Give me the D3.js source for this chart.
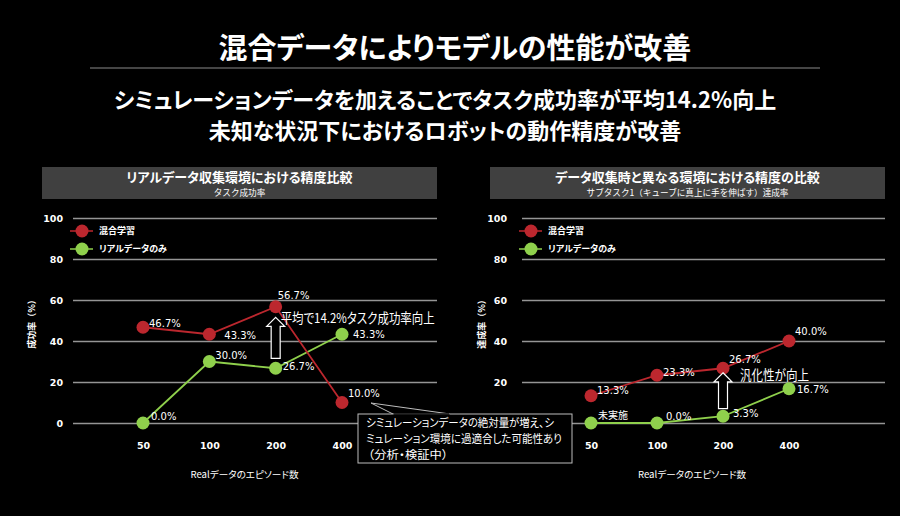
<!DOCTYPE html>
<meta charset="utf-8">
<script src="https://d3js.org/d3.v7.min.js"></script>
<style>
    html, body { margin: 0; padding: 0; background: #000; }
    svg { display: block; }
    text { font-feature-settings: "palt"; }
    text.fullwidth { font-feature-settings: normal; }
</style>
<body>
    <div id="chart"></div>
</body>
<script>
    // ---- data ----
    const episodes = ["50", "100", "200", "400"];
    const seriesNames = ["混合学習", "リアルデータのみ"];
    const yTicks = [0, 20, 40, 60, 80, 100];

    const leftMixed = [46.7, 43.3, 56.7, 10.0];
    const leftReal = [0.0, 30.0, 26.7, 43.3];
    const rightMixed = [13.3, 23.3, 26.7, 40.0];
    const rightReal = [0.0, 0.0, 3.3, 16.7];
    const rightRealLabels = ["未実施", "0.0%", "3.3%", "16.7%"];

    // label offsets (dx, dy from the point), layout only
    const leftMixedOff = [[6, 0], [15, 5], [2, -8], [6, -6]];
    const leftRealOff = [[8, -3], [6, -3], [7, 2], [11, 4]];
    const rightMixedOff = [[6, -2], [6, 1], [6, -5], [6, -6]];
    const rightRealOff = [[7, -4], [9, -3], [10, 1], [8, 4]];

    const red = "#bc272e",
        green = "#8fd04c";
    const cjk = "'Noto Sans CJK JP', 'Noto Sans', sans-serif";
    const num = "'DejaVu Sans', Verdana, sans-serif";

    const W = 900,
        H = 516;

    const svg = d3.select("#chart")
        .append("svg")
        .attr("width", W)
        .attr("height", H);

    svg.append("rect").attr("width", W).attr("height", H).attr("fill", "#000");

    // ---- headline ----
    svg.append("text")
        .attr("x", 455).attr("y", 59)
        .attr("text-anchor", "middle")
        .style("font-family", cjk).style("font-weight", "bold").style("font-size", "29px")
        .attr("fill", "#fff")
        .text("混合データによりモデルの性能が改善");

    svg.append("line")
        .attr("x1", 90).attr("x2", 820).attr("y1", 68).attr("y2", 68)
        .attr("stroke", "#8a8a8a").attr("stroke-width", 1);

    const sublines = ["シミュレーションデータを加えることでタスク成功率が平均14.2%向上", "未知な状況下におけるロボットの動作精度が改善"];
    svg.selectAll(".sub")
        .data(sublines)
        .join("text")
        .attr("class", "sub")
        .attr("x", 445).attr("y", (d, i) => 108 + i * 31)
        .attr("text-anchor", "middle")
        .style("font-family", cjk).style("font-weight", "bold").style("font-size", "22px")
        .attr("fill", "#fff")
        .text(d => d);

    // ---- one panel ----
    function drawPanel(cfg) {
        const g = svg.append("g");

        // header bar
        g.append("rect")
            .attr("x", cfg.left).attr("y", 167)
            .attr("width", cfg.right - cfg.left).attr("height", 32)
            .attr("fill", "#404040");
        g.append("text")
            .attr("x", (cfg.left + cfg.right) / 2).attr("y", 182)
            .attr("text-anchor", "middle")
            .style("font-family", cjk).style("font-weight", "bold").style("font-size", "13px")
            .attr("fill", "#fff")
            .text(cfg.title);
        g.append("text")
            .attr("class", "fullwidth")
            .attr("x", (cfg.left + cfg.right) / 2).attr("y", 196)
            .attr("text-anchor", "middle")
            .style("font-family", cjk).style("font-size", "8.6px")
            .attr("fill", "#fff")
            .text(cfg.subtitle);

        const x = d3.scalePoint()
            .domain(episodes)
            .range([cfg.x0, cfg.x1]);
        const y = d3.scaleLinear()
            .domain([0, 100])
            .range([423, 218]);

        // grid + y ticks
        const yAxis = g.append("g")
            .attr("transform", `translate(${cfg.gridLeft},0)`)
            .call(d3.axisLeft(y).tickValues(yTicks).tickSize(-(cfg.right - cfg.gridLeft)).tickPadding(cfg.tickPad));
        yAxis.select(".domain").remove();
        yAxis.selectAll(".tick line").attr("stroke", "#959595").attr("stroke-width", 1.5);
        yAxis.selectAll(".tick text")
            .attr("fill", "#fff")
            .style("font-family", num).style("font-weight", "bold").style("font-size", "9.5px");
        // the callout box sits over the right panel's zero label
        if (cfg.hideZero) yAxis.selectAll(".tick text").filter(d => d === 0).remove();

        // x ticks
        const xAxis = g.append("g")
            .attr("transform", "translate(0,423)")
            .call(d3.axisBottom(x).tickSize(0).tickPadding(19));
        xAxis.select(".domain").remove();
        xAxis.selectAll(".tick text")
            .attr("fill", "#fff")
            .style("font-family", num).style("font-weight", "bold").style("font-size", "9.5px");

        // axis titles
        g.append("text")
            .attr("class", "fullwidth")
            .attr("transform", `translate(${cfg.yTitleX},322) rotate(-90)`)
            .attr("text-anchor", "middle")
            .attr("dy", "0.35em")
            .style("font-family", cjk).style("font-weight", "bold").style("font-size", "9px")
            .attr("fill", "#fff")
            .text(cfg.yTitle);
        g.append("text")
            .attr("x", (cfg.x0 + cfg.x1) / 2 + 2).attr("y", 478)
            .attr("text-anchor", "middle")
            .style("font-family", cjk).style("font-size", "9.6px")
            .attr("fill", "#fff")
            .text("Realデータのエピソード数");

        // legend
        const lg = g.selectAll(".legend")
            .data(seriesNames)
            .join("g")
            .attr("transform", (d, i) => `translate(${cfg.gridLeft},${231 + i * 18})`);
        lg.append("line")
            .attr("x1", -3).attr("x2", 20)
            .attr("stroke", (d, i) => i === 0 ? red : green).attr("stroke-width", 1.5);
        lg.append("circle")
            .attr("cx", 9).attr("r", 6.5)
            .attr("fill", (d, i) => i === 0 ? red : green);
        lg.append("text")
            .attr("x", 26).attr("dy", "0.35em")
            .style("font-family", cjk).style("font-weight", "bold").style("font-size", "9px")
            .attr("fill", "#fff")
            .text(d => d);

        const line = d3.line()
            .x((d, i) => x(episodes[i]))
            .y(d => y(d));

        const series = [
            { values: cfg.real, color: green, labels: cfg.realLabels, off: cfg.realOff },
            { values: cfg.mixed, color: red, labels: cfg.mixed.map(v => v.toFixed(1) + "%"), off: cfg.mixedOff }
        ];

        series.forEach(s => {
            g.append("path")
                .datum(s.values)
                .attr("fill", "none")
                .attr("stroke", s.color)
                .attr("stroke-width", 1.8)
                .attr("d", line);
        });
        series.forEach(s => {
            g.selectAll(null)
                .data(s.values)
                .join("circle")
                .attr("cx", (d, i) => x(episodes[i]))
                .attr("cy", d => y(d))
                .attr("r", 6.5)
                .attr("fill", s.color);
            g.selectAll(null)
                .data(s.values)
                .join("text")
                .attr("x", (d, i) => x(episodes[i]) + s.off[i][0])
                .attr("y", (d, i) => y(d) + s.off[i][1])
                .style("font-family", (d, i) => /%/.test(s.labels[i]) ? num : cjk)
                .style("font-size", "10px")
                .attr("fill", "#fff")
                .text((d, i) => s.labels[i]);
        });

        // hollow "improvement" arrow + note
        const ax = x(cfg.arrowAt);
        const aTop = y(cfg.arrowTop),
            aBot = y(cfg.arrowBot);
        g.append("path")
            .attr("d", `M${ax},${aTop} L${ax + 9},${aTop + 9} L${ax + 4.5},${aTop + 9} L${ax + 4.5},${aBot} ` +
                `L${ax - 4.5},${aBot} L${ax - 4.5},${aTop + 9} L${ax - 9},${aTop + 9} Z`)
            .attr("fill", "#000")
            .attr("stroke", "#fff")
            .attr("stroke-width", 1.2);
        g.append("text")
            .attr("x", ax + cfg.noteDx).attr("y", aTop + cfg.noteDy)
            .attr("textLength", cfg.noteWidth)
            .attr("lengthAdjust", "spacingAndGlyphs")
            .style("font-family", cjk).style("font-size", "13.5px")
            .attr("fill", "#fff")
            .text(cfg.note);
    }

    drawPanel({
        left: 42, right: 437, gridLeft: 73, tickPad: 10,
        x0: 143, x1: 342, yTitleX: 32,
        title: "リアルデータ収集環境における精度比較",
        subtitle: "タスク成功率",
        yTitle: "成功率（%）",
        mixed: leftMixed, real: leftReal,
        realLabels: leftReal.map(v => v.toFixed(1) + "%"),
        mixedOff: leftMixedOff, realOff: leftRealOff,
        arrowAt: "200", arrowTop: 51.5, arrowBot: 31.5,
        note: "平均で14.2%タスク成功率向上", noteDx: 5, noteDy: 6, noteWidth: 154
    });

    drawPanel({
        left: 490, right: 885, gridLeft: 522, tickPad: 15, hideZero: true,
        x0: 591, x1: 789, yTitleX: 482,
        title: "データ収集時と異なる環境における精度の比較",
        subtitle: "サブタスク1（キューブに真上に手を伸ばす）達成率",
        yTitle: "達成率（%）",
        mixed: rightMixed, real: rightReal,
        realLabels: rightRealLabels,
        mixedOff: rightMixedOff, realOff: rightRealOff,
        arrowAt: "200", arrowTop: 24.5, arrowBot: 7,
        note: "汎化性が向上", noteDx: 17, noteDy: 7, noteWidth: 69
    });

    // ---- callout on the 400-episode drop ----
    const callout = svg.append("g");
    callout.append("path")
        .attr("d", "M371,403 L393,414 L450,414 Z")
        .attr("fill", "#000")
        .attr("stroke", "#bdbdbd")
        .attr("stroke-width", 1);
    callout.append("rect")
        .attr("x", 358).attr("y", 414)
        .attr("width", 214).attr("height", 49)
        .attr("fill", "#000")
        .attr("stroke", "#bdbdbd")
        .attr("stroke-width", 1);
    callout.append("line")
        .attr("x1", 393.5).attr("x2", 449.5).attr("y1", 414).attr("y2", 414)
        .attr("stroke", "#000").attr("stroke-width", 1.5);
    const calloutLines = ["シミュレーションデータの絶対量が増え、シ", "ミュレーション環境に過適合した可能性あり", "（分析・検証中）"];
    const calloutWidths = [188, 196, 80];
    callout.selectAll("text")
        .data(calloutLines)
        .join("text")
        .attr("x", (d, i) => i === 2 ? 368 : 366).attr("y", (d, i) => 427 + i * 16)
        .attr("textLength", (d, i) => calloutWidths[i])
        .attr("lengthAdjust", "spacingAndGlyphs")
        .style("font-family", cjk).style("font-size", "11.5px")
        .attr("fill", "#fff")
        .text(d => d);
</script>
